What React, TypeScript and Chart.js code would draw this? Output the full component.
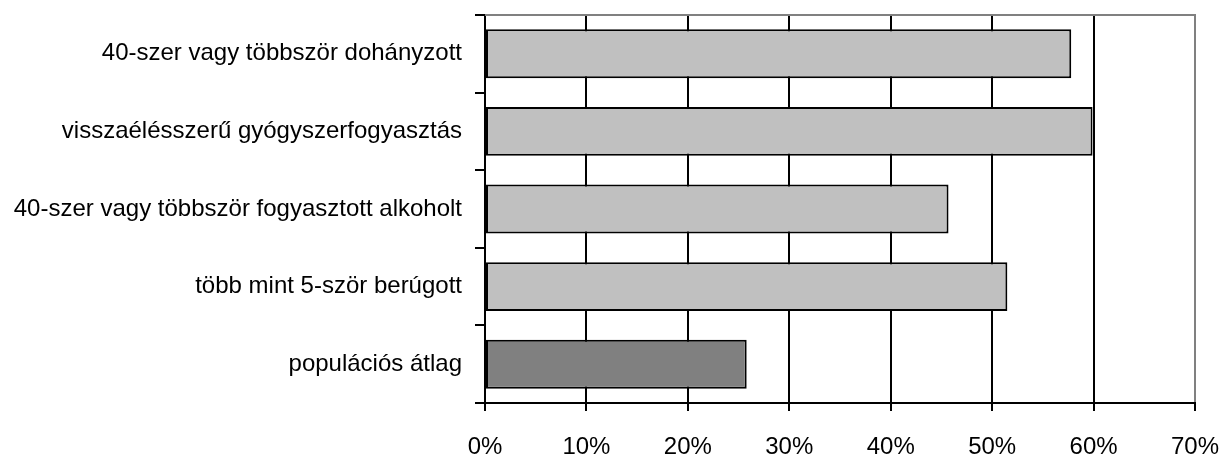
import React, { useEffect, useRef } from "react";
import { Chart, registerables } from "chart.js";

Chart.register(...registerables);

const categories = [
  "40-szer vagy többször dohányzott",
  "visszaélésszerű gyógyszerfogyasztás",
  "40-szer vagy többször fogyasztott alkoholt",
  "több mint 5-ször berúgott",
  "populációs átlag",
];
const values = [57.8, 59.9, 45.7, 51.5, 25.8];
const barColors = ["#C0C0C0", "#C0C0C0", "#C0C0C0", "#C0C0C0", "#808080"];
const xMin = 0;
const xMax = 70;
const xStep = 10;

const FONT = { family: "'Liberation Sans', Arial, sans-serif", size: 24 };

const framePlugin = {
  id: "topFrame",
  afterDatasetsDraw(chart: any) {
    const { ctx, chartArea } = chart;
    ctx.save();
    ctx.strokeStyle = "#808080";
    ctx.lineWidth = 2;
    ctx.beginPath();
    ctx.moveTo(chartArea.left, chartArea.top);
    ctx.lineTo(chartArea.right + 1, chartArea.top);
    ctx.stroke();
    ctx.restore();
  },
};

const zeroPad = (s: any) => {
  s.paddingLeft = 0;
  s.paddingRight = 0;
  s.paddingTop = 0;
  s.paddingBottom = 0;
};

export default function App() {
  const ref = useRef<HTMLCanvasElement>(null);
  useEffect(() => {
    if (!ref.current) return;
    const chart = new Chart(ref.current, {
      type: "bar",
      data: {
        labels: categories,
        datasets: [
          {
            data: values,
            backgroundColor: barColors,
            borderColor: "#000000",
            borderWidth: 2,
            borderSkipped: false,
            barPercentage: 0.63,
            categoryPercentage: 1,
          },
        ],
      },
      options: {
        indexAxis: "y",
        animation: false,
        responsive: true,
        maintainAspectRatio: false,
        layout: { padding: { top: 15, right: 27, left: 0, bottom: 0 } },
        plugins: {
          legend: { display: false },
          tooltip: { enabled: false },
        },
        scales: {
          x: {
            min: xMin,
            max: xMax,
            border: { display: true, color: "#000000", width: 2 },
            grid: {
              color: (c: any) =>
                c.tick && c.tick.value === xMax ? "#808080" : "#000000",
              lineWidth: 2,
              tickColor: "#000000",
              tickLength: 8,
            },
            ticks: {
              stepSize: xStep,
              color: "#000000",
              font: FONT,
              padding: 22,
              maxRotation: 0,
              autoSkip: false,
              callback: (v: any) => v + "%",
            },
            afterFit: (s: any) => {
              s.height = 57;
              zeroPad(s);
            },
          },
          y: {
            border: { display: true, color: "#000000", width: 2 },
            grid: {
              offset: true,
              drawOnChartArea: false,
              color: "#000000",
              lineWidth: 2,
              tickLength: 10,
            },
            ticks: {
              color: "#000000",
              font: FONT,
              padding: 13,
              autoSkip: false,
            },
            afterFit: (s: any) => {
              s.width = 485;
              zeroPad(s);
            },
          },
        },
      },
      plugins: [framePlugin],
    });
    return () => chart.destroy();
  }, []);
  return (
    <div style={{ position: "absolute", left: 0, top: 0, width: 1222, height: 460 }}>
      <canvas ref={ref} />
    </div>
  );
}
